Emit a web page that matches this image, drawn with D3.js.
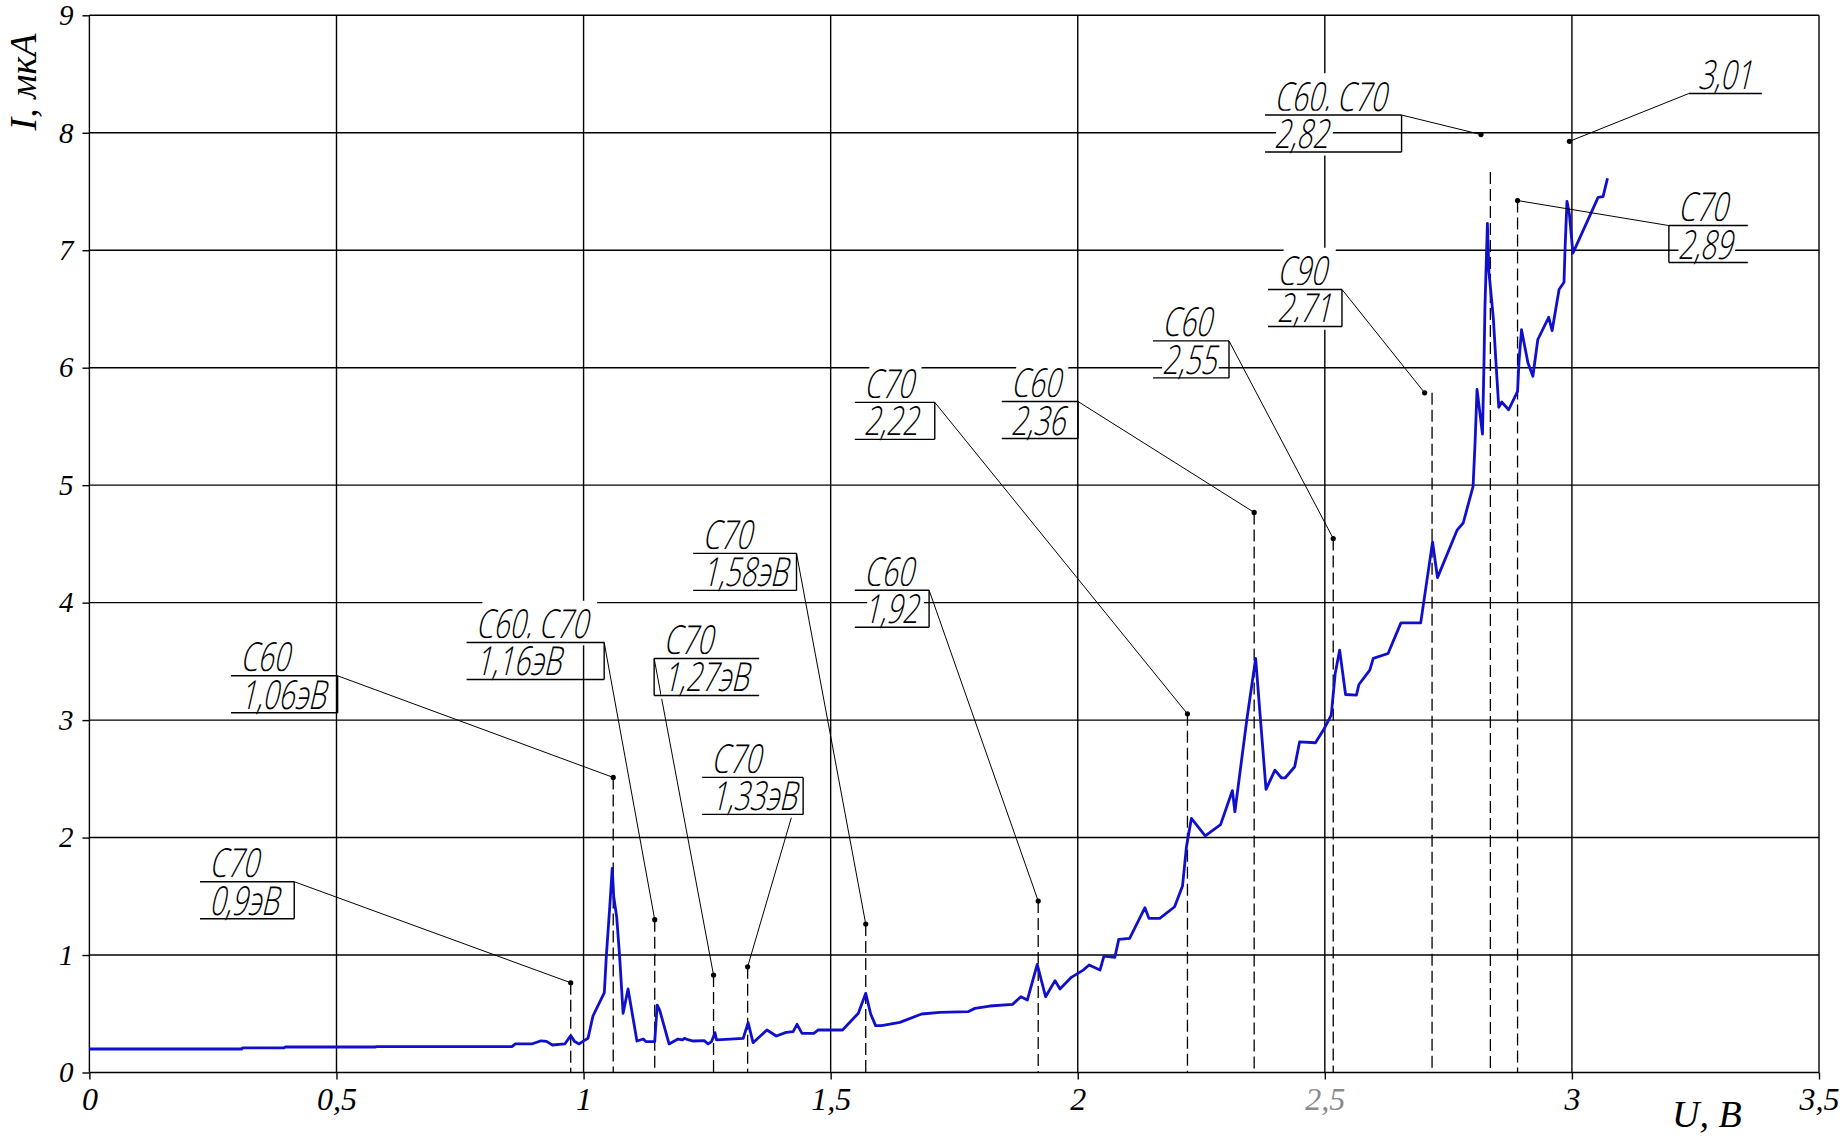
<!DOCTYPE html>
<html><head><meta charset="utf-8">
<script src="https://cdn.jsdelivr.net/npm/d3@7"></script>
<style>
html,body{margin:0;padding:0;background:#fff;}
svg{display:block;}
</style></head><body>
<svg id="chart" width="1844" height="1138"></svg>
<script>
// ---------- data ----------
const xTicks = [0, 0.5, 1, 1.5, 2, 2.5, 3, 3.5];
const xTickLabels = ["0", "0,5", "1", "1,5", "2", "2,5", "3", "3,5"];
const yTicks = [0, 1, 2, 3, 4, 5, 6, 7, 8, 9];
const yTickLabels = ["0", "1", "2", "3", "4", "5", "6", "7", "8", "9"];
const xTitle = "U, B";
const yTitle = "I, мкА";

// U, V
const voltage = [0.000,0.308,0.310,0.394,0.396,0.579,0.581,0.855,0.862,0.895,0.914,0.925,0.937,0.962,0.974,0.982,0.991,1.001,1.009,1.019,
1.042,1.046,1.053,1.058,1.061,1.067,1.073,1.080,1.090,1.108,1.121,1.126,1.144,1.149,1.154,1.173,1.191,1.200,1.204,1.213,
1.222,1.244,1.252,1.259,1.266,1.269,1.297,1.323,1.333,1.343,1.371,1.390,1.410,1.424,1.432,1.442,1.466,1.475,1.524,1.556,
1.571,1.581,1.591,1.603,1.640,1.684,1.721,1.778,1.792,1.822,1.868,1.885,1.898,1.918,1.935,1.954,1.964,1.987,2.011,2.023,
2.045,2.053,2.075,2.083,2.105,2.136,2.144,2.166,2.196,2.212,2.220,2.230,2.258,2.289,2.313,2.318,2.342,2.360,2.364,2.381,
2.399,2.412,2.420,2.439,2.449,2.481,2.499,2.513,2.521,2.530,2.542,2.564,2.569,2.591,2.598,2.628,2.654,2.694,2.718,2.728,
2.768,2.780,2.800,2.804,2.808,2.812,2.819,2.822,2.824,2.829,2.832,2.841,2.847,2.852,2.858,2.872,2.890,2.893,2.898,2.911,
2.921,2.931,2.953,2.960,2.974,2.984,2.986,2.990,2.995,3.002,3.053,3.063,3.072];
// I, uA
const current = [0.200,0.200,0.210,0.210,0.217,0.217,0.220,0.220,0.243,0.243,0.270,0.265,0.234,0.243,0.314,0.263,0.243,0.271,0.291,0.481,
0.680,0.986,1.411,1.738,1.496,1.326,0.986,0.504,0.711,0.268,0.285,0.263,0.263,0.574,0.532,0.243,0.285,0.277,0.291,0.277,
0.268,0.271,0.243,0.263,0.339,0.277,0.285,0.291,0.424,0.254,0.362,0.311,0.342,0.348,0.410,0.333,0.333,0.362,0.362,0.504,
0.674,0.498,0.399,0.399,0.427,0.498,0.512,0.518,0.546,0.566,0.580,0.645,0.617,0.920,0.645,0.782,0.711,0.810,0.872,0.915,
0.872,0.991,0.980,1.133,1.142,1.403,1.312,1.312,1.411,1.587,1.922,2.163,2.015,2.110,2.400,2.220,2.999,3.525,3.312,2.410,
2.574,2.509,2.509,2.603,2.815,2.807,2.929,3.042,3.397,3.596,3.218,3.213,3.303,3.425,3.525,3.567,3.828,3.828,4.517,4.213,
4.620,4.678,4.990,5.358,5.815,5.677,5.435,6.027,6.514,7.228,6.818,6.422,5.997,5.663,5.708,5.642,5.799,6.058,6.323,6.043,
5.927,6.240,6.429,6.316,6.666,6.727,7.000,7.416,7.304,6.975,7.450,7.456,7.613];

// callouts: texts, marked point (U, I), dashed drop line (U, top I), label anchor (left U, right U, top I), box side
const calloutLine1 = ["C70","C60","C60, C70","C70","C70","C70","C60","C70","C60","C60","C90","C60, C70","C70","3,01"];
const calloutLine2 = ["0,9эВ","1,06эВ","1,16эВ","1,27эВ","1,33эВ","1,58эВ","1,92","2,22","2,36","2,55","2,71","2,82","2,89",""];
const calloutPointU = [0.974,1.060,1.144,1.263,1.332,1.571,1.920,2.222,2.357,2.517,2.702,2.816,2.890,2.995];
const calloutPointI = [0.764,2.512,1.301,0.830,0.900,1.264,1.460,3.053,4.768,4.546,5.786,7.985,7.423,7.927];
const dropU = [0.974,1.060,1.144,1.263,1.332,1.571,1.920,2.222,2.357,2.517,2.717,2.835,2.890,null];
const dropTopI = [0.764,2.512,1.301,0.830,0.900,1.264,1.460,3.053,4.768,4.546,5.786,7.666,7.423,null];
const labelLeftU = [0.2238,0.2865,0.7633,1.1428,1.2399,1.2217,1.5489,1.5489,1.8463,2.1523,2.3850,2.3789,3.1962,3.2365];
const labelRightU = [0.4145,0.5023,1.0417,1.3553,1.4443,1.4309,1.6992,1.7107,2.0006,2.3061,2.5347,2.6553,3.3560,3.3844];
const labelTopI = [1.624,3.377,3.661,3.525,2.512,4.419,4.106,5.705,5.712,6.228,6.666,8.151,7.210,8.334];
const calloutSide = ["right","right","right","left","right","right","right","right","right","right","right","right","left","flag"];

// ---------- drawing ----------
const svg = d3.select("#chart");
const x = d3.scaleLinear().domain([0, 3.5]).range([89.4, 1819]);
const y = d3.scaleLinear().domain([0, 9]).range([1072.5, 15.3]);

// grid
const grid = svg.append("g").attr("stroke", "#000").attr("stroke-width", 1.4);
grid.selectAll(".vg").data(xTicks).join("line")
  .attr("x1", d => x(d)).attr("x2", d => x(d)).attr("y1", y(9)).attr("y2", y(0));
grid.selectAll(".hg").data(yTicks).join("line")
  .attr("x1", x(0)).attr("x2", x(3.5)).attr("y1", d => y(d)).attr("y2", d => y(d));

// axes
const serif = "'Liberation Serif','Times New Roman',serif";
const xAxis = svg.append("g").attr("transform", `translate(0,${y(0)})`)
  .call(d3.axisBottom(x).tickValues(xTicks).tickFormat((d, i) => xTickLabels[i]).tickSize(7).tickPadding(8));
const yAxis = svg.append("g").attr("transform", `translate(${x(0)},0)`)
  .call(d3.axisLeft(y).tickValues(yTicks).tickFormat((d, i) => yTickLabels[i]).tickSize(7).tickPadding(9));
[xAxis, yAxis].forEach(a => {
  a.select(".domain").remove();
  a.selectAll(".tick line").attr("stroke", "#000").attr("stroke-width", 1.4);
  a.selectAll(".tick text").attr("font-family", serif).attr("font-style", "italic").attr("fill", "#000");
});
xAxis.selectAll(".tick text").attr("font-size", 32)
  .attr("fill", (d, i) => xTickLabels[i] === "2,5" ? "#8a8a8a" : "#000");
yAxis.selectAll(".tick text").attr("font-size", 29);

svg.append("text").attr("transform", `translate(36,82) rotate(-90)`)
  .attr("text-anchor", "middle").attr("font-family", serif).attr("font-style", "italic")
  .attr("font-size", 38).text(yTitle);
svg.append("text").attr("x", 1672).attr("y", 1127)
  .attr("font-family", serif).attr("font-style", "italic").attr("font-size", 38).text(xTitle);

// dashed drop lines
const idx = d3.range(calloutLine1.length);
svg.append("g").selectAll("line").data(idx.filter(i => dropU[i] !== null)).join("line")
  .attr("x1", i => x(dropU[i])).attr("x2", i => x(dropU[i]))
  .attr("y1", i => y(dropTopI[i])).attr("y2", y(0))
  .attr("stroke", "#000").attr("stroke-width", 1.3).attr("stroke-dasharray", "12,5");

// curve
const pts = voltage.map((u, i) => [u, current[i]]);
svg.append("path").datum(pts)
  .attr("d", d3.line().x(d => x(d[0])).y(d => y(d[1])))
  .attr("fill", "none").attr("stroke", "#1010cc").attr("stroke-width", 2.8)
  .attr("stroke-linejoin", "round");

// callouts
const boxH = 37;
const cg = svg.append("g");
function calloutText(g, str, tx, ty) {
  if (!str) return;
  const outer = g.append("g").attr("transform", `translate(${tx},${ty})`);
  const inner = outer.append("g").attr("transform", "skewX(-13) scale(0.7,1)");
  const t = inner.append("text").attr("x", 0).attr("y", 0)
    .attr("font-family", "'Open Sans','DejaVu Sans',sans-serif").attr("font-weight", 300)
    .attr("font-size", 40).attr("fill", "#000").text(str);
  const bb = t.node().getBBox();
  inner.insert("rect", "text").attr("x", bb.x - 2).attr("y", bb.y + 6)
    .attr("width", bb.width + 4).attr("height", bb.height - 10).attr("fill", "#fff");
}
idx.forEach(i => {
  const xl = x(labelLeftU[i]), xr = x(labelRightU[i]), yt = y(labelTopI[i]), yb = yt + boxH;
  const px = x(calloutPointU[i]), py = y(calloutPointI[i]);
  const g = cg.append("g");
  const side = calloutSide[i];
  const sx = side === "right" ? xr : xl;
  g.append("line").attr("x1", sx).attr("y1", yt).attr("x2", px).attr("y2", py)
    .attr("stroke", "#000").attr("stroke-width", 1);
  g.append("circle").attr("cx", px).attr("cy", py).attr("r", 2.6).attr("fill", "#000");
  calloutText(g, calloutLine1[i], xl + 9, yt - 4.5);
  calloutText(g, calloutLine2[i], xl + 9, yb - 4);
  g.append("line").attr("x1", xl).attr("x2", xr).attr("y1", yt).attr("y2", yt)
    .attr("stroke", "#000").attr("stroke-width", 1.4);
  if (side !== "flag") {
    g.append("line").attr("x1", xl).attr("x2", xr).attr("y1", yb).attr("y2", yb)
      .attr("stroke", "#000").attr("stroke-width", 1.4);
    g.append("line").attr("x1", sx).attr("x2", sx).attr("y1", yt).attr("y2", yb)
      .attr("stroke", "#000").attr("stroke-width", 1.4);
  }
});
</script>
</body></html>
